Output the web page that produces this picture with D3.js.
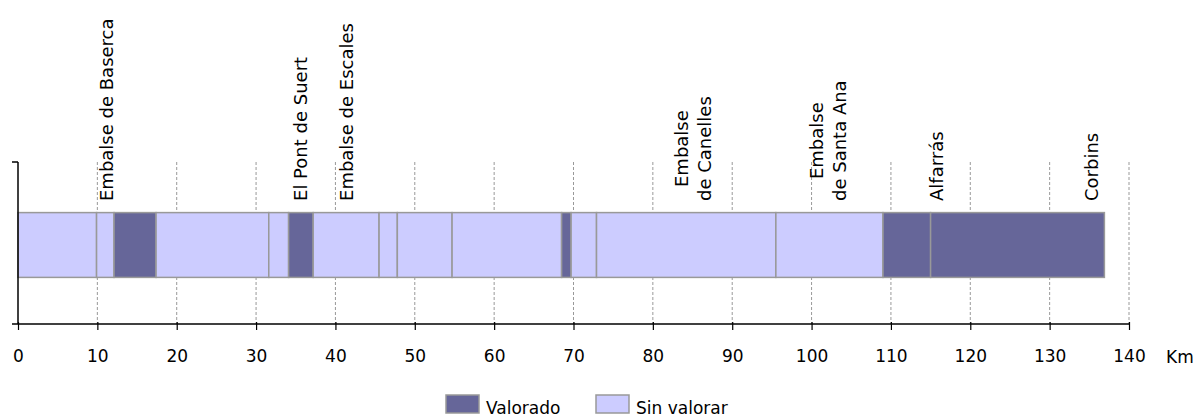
<!DOCTYPE html>
<html>
<head>
<meta charset="utf-8">
<script src="https://cdn.jsdelivr.net/npm/d3@7"></script>
<style>
  body { margin: 0; background: #fff; }
  svg text { font-family: "DejaVu Sans", Verdana, sans-serif; fill: #000; }
</style>
</head>
<body>
<svg id="chart" width="1203" height="418"></svg>
<script>
// ---- data ----
// km breakpoints along the river, one segment between each pair
const breaks = [0, 9.9, 12.1, 17.4, 31.6, 34.1, 37.2, 45.5, 47.8, 54.7, 68.5, 69.7, 72.9, 95.5, 109.0, 115.0, 136.9];
// status for each segment: 1 = Valorado, 0 = Sin valorar
const status = [0, 0, 1, 0, 0, 1, 0, 0, 0, 0, 1, 0, 0, 0, 1, 1];

const placeNames = [
  ["Embalse de Baserca"],
  ["El Pont de Suert"],
  ["Embalse de Escales"],
  ["Embalse", "de Canelles"],
  ["Embalse", "de Santa Ana"],
  ["Alfarrás"],
  ["Corbins"]
];
const placeKm = [12.0, 36.4, 42.2, 87.3, 104.3, 116.6, 136.1];

const xTicks = [0, 10, 20, 30, 40, 50, 60, 70, 80, 90, 100, 110, 120, 130, 140];
const legendLabels = ["Valorado", "Sin valorar"];

// ---- setup ----
const colors = { 1: "#666699", 0: "#CCCCFF" };
const strokeCol = "#999999";

const svg = d3.select("#chart");
const x = d3.scaleLinear().domain([0, 140]).range([18, 1129]);
const yTop = 162, yBottom = 324;
// band sits a touch below the middle, like the original
const y = d3.scaleBand().domain(["tramo"]).range([yTop + 2, yBottom + 2]).paddingInner(0).paddingOuter(0.75);

// gridlines
svg.append("g")
  .selectAll("line")
  .data(xTicks.filter(d => d > 0))
  .join("line")
  .attr("x1", d => x(d)).attr("x2", d => x(d))
  .attr("y1", yTop).attr("y2", yBottom)
  .attr("stroke", "#999")
  .attr("stroke-width", 1)
  .attr("stroke-dasharray", "3,2");

// segments
const segs = status.map((s, i) => ({ start: breaks[i], end: breaks[i + 1], s }));
svg.append("g")
  .selectAll("rect")
  .data(segs)
  .join("rect")
  .attr("x", d => x(d.start))
  .attr("y", y("tramo"))
  .attr("width", d => x(d.end) - x(d.start))
  .attr("height", y.bandwidth())
  .attr("fill", d => colors[d.s])
  .attr("stroke", strokeCol)
  .attr("stroke-width", 1.5);

// x axis
const xAxis = svg.append("g")
  .attr("transform", `translate(0,${yBottom})`)
  .call(d3.axisBottom(x).tickValues(xTicks).tickSize(6).tickPadding(20).tickFormat(d3.format("d")));
xAxis.select(".domain").attr("stroke", "#000").attr("stroke-width", 1.5).attr("d", `M${x(0) - 6},0H${x(140)}`);
xAxis.selectAll(".tick line").attr("stroke", "#000").attr("stroke-width", 1.2).attr("y1", -2);
xAxis.selectAll(".tick text").style("font-size", "17px").style("font-family", "DejaVu Sans");

svg.append("text")
  .attr("x", 1166).attr("y", 363)
  .style("font-size", "17px")
  .text("Km");

// y axis (just the line with end ticks)
svg.append("line")
  .attr("x1", x(0)).attr("x2", x(0))
  .attr("y1", yTop).attr("y2", yBottom)
  .attr("stroke", "#000").attr("stroke-width", 1.5);
svg.append("line")
  .attr("x1", x(0) - 6).attr("x2", x(0))
  .attr("y1", yTop).attr("y2", yTop)
  .attr("stroke", "#000").attr("stroke-width", 1.5);

// place labels, rotated, bottom aligned at y=201
const lineGap = 23;
const labelBase = 201;
placeNames.forEach((lines, i) => {
  const g = svg.append("g");
  const texts = lines.map((ln, j) => g.append("text")
    .style("font-size", "18px")
    .text(ln));
  const widths = texts.map(t => t.node().getComputedTextLength());
  const maxW = d3.max(widths);
  texts.forEach((t, j) => {
    const bx = x(placeKm[i]) - (lines.length - 1 - j) * lineGap;
    const cy = labelBase - maxW / 2;
    t.attr("text-anchor", "middle")
      .attr("transform", `translate(${bx},${cy}) rotate(-90)`);
  });
});

// legend
const legendX = [446, 596];
const legend = svg.append("g");
legendLabels.forEach((lab, i) => {
  legend.append("rect")
    .attr("x", legendX[i]).attr("y", 395)
    .attr("width", 33).attr("height", 18)
    .attr("fill", colors[i === 0 ? 1 : 0])
    .attr("stroke", strokeCol).attr("stroke-width", 1.5);
  legend.append("text")
    .attr("x", legendX[i] + 40).attr("y", 414)
    .style("font-size", "17px")
    .text(lab);
});
</script>
</body>
</html>
